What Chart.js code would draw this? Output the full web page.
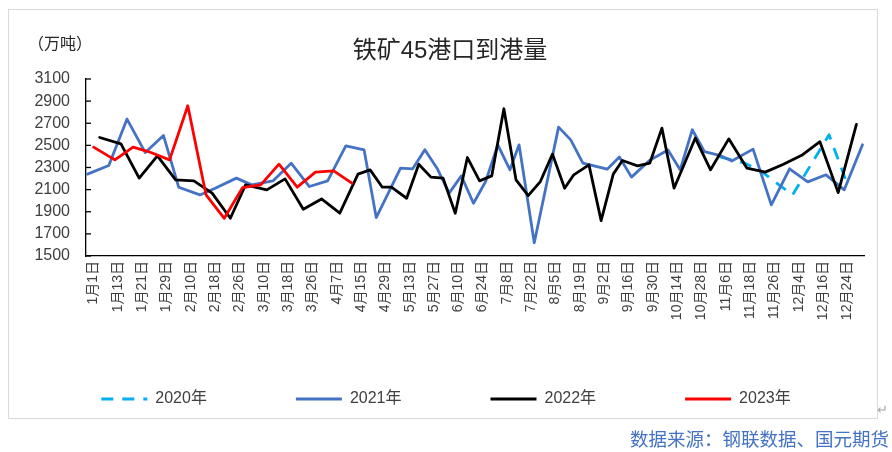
<!DOCTYPE html>
<html>
<head>
<meta charset="utf-8">
<script src="https://cdn.jsdelivr.net/npm/chart.js@4.4.0/dist/chart.umd.min.js"></script>
<style>
  html, body { margin: 0; padding: 0; background: #fff; }
  body { width: 892px; height: 452px; position: relative; overflow: hidden;
         font-family: "Liberation Sans", "Noto Sans CJK SC", sans-serif; }
  #frame { position: absolute; left: 8px; top: 9px; width: 868px; height: 408px; border: 1px solid #d9d9d9; }
  #chart { position: absolute; left: 0; top: 0; }
  .title { position: absolute; left: 450px; top: 30px; transform: translateX(-50%);
           font-size: 24px; color: #262626; white-space: nowrap; }
  .unit { position: absolute; left: 28px; top: 30px; font-size: 16px; color: #262626; }
  .source { position: absolute; left: 630px; top: 425px; font-size: 18.5px; color: #4472c4; white-space: nowrap; }
  .mark { position: absolute; left: 877px; top: 402px; font-size: 13px; color: #a6a6a6; }
</style>
</head>
<body>
<div id="frame"></div>
<canvas id="chart" width="892" height="452"></canvas>
<div class="title">铁矿45港口到港量</div>
<div class="unit">（万吨）</div>
<div class="mark">↵</div>
<div class="source">数据来源：钢联数据、国元期货</div>
<script>
// tick labels along the x axis (one every 8 slots)
const dateLabels = ['1月1日', '1月13日', '1月21日', '1月29日', '2月10日', '2月18日', '2月26日', '3月10日',
  '3月18日', '3月26日', '4月7日', '4月15日', '4月29日', '5月13日', '5月27日', '6月10日',
  '6月24日', '7月8日', '7月22日', '8月5日', '8月19日', '9月2日', '9月16日', '9月30日',
  '10月14日', '10月28日', '11月6日', '11月18日', '11月26日', '12月4日', '12月16日', '12月24日'];
const slotsPerLabel = 8;
const labelOffset = 2;
const slotCount = 256;

// each year: slot on the shared date axis + arrival volume (万吨)
const slots2020 = [208, 216, 221, 232, 244, 250];
const values2020 = [2397, 2342, 2279, 2052, 2596, 2150];

const slots2021 = [0, 7, 13, 19, 25, 30, 37, 42, 49, 54, 61, 67, 73, 79, 85, 91, 95, 103, 107, 111,
  115, 119, 123, 127, 131, 135, 139, 142, 147, 155, 159, 163, 171, 175, 179, 185, 191, 195, 199, 203,
  208, 212, 219, 225, 231, 237, 243, 249, 255];
const values2021 = [2240, 2318, 2738, 2435, 2589, 2122, 2052, 2113, 2204, 2143, 2179, 2339, 2128, 2179, 2496, 2460, 1847, 2294, 2288, 2460,
  2294, 2068, 2224, 1977, 2173, 2505, 2279, 2505, 1620, 2665, 2550, 2339, 2285, 2394, 2213, 2365, 2458, 2279, 2641, 2444,
  2410, 2358, 2466, 1962, 2288, 2170, 2234, 2098, 2505];

const slots2022 = [4, 11, 17, 23, 29, 35, 41, 47, 52, 59, 65, 71, 77, 83, 89, 93, 97, 100, 105, 109,
  113, 117, 121, 125, 129, 133, 137, 141, 145, 149, 153, 157, 160, 165, 169, 173, 176, 181, 185, 189,
  193, 200, 205, 211, 217, 223, 229, 235, 241, 247, 253];
const values2022 = [2571, 2514, 2204, 2405, 2188, 2179, 2068, 1841, 2143, 2098, 2197, 1923, 2016, 1887, 2240, 2279, 2122, 2122, 2022, 2330,
  2213, 2204, 1887, 2390, 2179, 2224, 2831, 2188, 2046, 2173, 2421, 2113, 2234, 2324, 1820, 2240, 2363, 2315, 2339, 2656,
  2113, 2566, 2279, 2559, 2294, 2258, 2330, 2410, 2533, 2073, 2690];

const slots2023 = [2, 9, 15, 20, 27, 33, 39, 45, 51, 57, 63, 69, 75, 81, 87];
const values2023 = [2484, 2369, 2484, 2444, 2369, 2858, 2052, 1841, 2118, 2143, 2330, 2122, 2258, 2270, 2158];

const yMin = 1500;
const yMax = 3100;
const yStep = 200;

const slotLabels = Array.from({ length: slotCount }, (_, i) =>
  (i - labelOffset) % slotsPerLabel === 0 ? dateLabels[(i - labelOffset) / slotsPerLabel] || '' : '');

function toSlots(slots, values) {
  const arr = new Array(slotCount).fill(null);
  slots.forEach((s, i) => { arr[s] = values[i]; });
  return arr;
}

const fontFamily = "'Liberation Sans', 'Noto Sans CJK SC', sans-serif";
const textColor = '#404040';

// small tick marks drawn on the inside of the y axis
const innerTicks = {
  id: 'innerTicks',
  afterDatasetsDraw(chart) {
    const { ctx, chartArea, scales: { y } } = chart;
    ctx.save();
    ctx.strokeStyle = '#000';
    ctx.lineWidth = 1.3;
    y.ticks.forEach(t => {
      const py = y.getPixelForValue(t.value);
      ctx.beginPath();
      ctx.moveTo(chartArea.left, py);
      ctx.lineTo(chartArea.left + 5, py);
      ctx.stroke();
    });
    ctx.restore();
  }
};

// long rotated date labels run into the legend band; don't clip them at the axis box
const longLabels = {
  id: 'longLabels',
  afterLayout(chart) {
    chart.scales.x.bottom = chart.height;
  }
};

function lineSet(label, data, color, order, dash) {
  return {
    label: label,
    data: data,
    borderColor: color,
    backgroundColor: color,
    borderWidth: 2.8,
    borderDash: dash || [],
    borderCapStyle: dash ? 'butt' : 'round',
    borderJoinStyle: 'round',
    pointRadius: 0,
    pointHoverRadius: 0,
    tension: 0,
    spanGaps: true,
    fill: false,
    order: order
  };
}

// legend samples take the line's own dash and width
function legendItems(chart) {
  return Chart.defaults.plugins.legend.labels.generateLabels(chart).map(item => {
    const ds = chart.data.datasets[item.datasetIndex];
    item.lineDash = ds.borderDash;
    item.lineWidth = ds.borderWidth;
    item.strokeStyle = ds.borderColor;
    item.lineCap = 'butt';
    return item;
  });
}

new Chart(document.getElementById('chart'), {
  type: 'line',
  plugins: [innerTicks, longLabels],
  data: {
    labels: slotLabels,
    datasets: [
      lineSet('2020年', toSlots(slots2020, values2020), '#00b0f0', 4, [12, 9]),
      lineSet('2021年', toSlots(slots2021, values2021), '#4472c4', 3),
      lineSet('2022年', toSlots(slots2022, values2022), '#000000', 2),
      lineSet('2023年', toSlots(slots2023, values2023), '#ff0000', 1)
    ]
  },
  options: {
    responsive: false,
    animation: false,
    layout: { padding: { left: 0, right: 0, top: 79, bottom: 35 } },
    plugins: {
      title: { display: false },
      tooltip: { enabled: false },
      legend: {
        position: 'bottom',
        labels: {
          usePointStyle: true,
          pointStyle: 'line',
          pointStyleWidth: 46,
          padding: 89,
          color: textColor,
          font: { size: 16, family: fontFamily },
          generateLabels: legendItems,
          sort: (a, b) => a.datasetIndex - b.datasetIndex
        }
      }
    },
    scales: {
      x: {
        offset: true,
        ticks: {
          autoSkip: true,
          autoSkipPadding: -15,
          minRotation: 90,
          maxRotation: 90,
          padding: 5,
          color: textColor,
          font: { size: 14, family: fontFamily }
        },
        grid: { drawOnChartArea: false, drawTicks: false },
        border: { color: '#000', width: 1.3 },
        afterFit: s => { s.height = 46; }
      },
      y: {
        min: yMin,
        max: yMax,
        ticks: {
          stepSize: yStep,
          autoSkip: false,
          padding: 16,
          color: textColor,
          font: { size: 16, family: fontFamily },
          callback: v => String(v)
        },
        grid: { drawOnChartArea: false, drawTicks: false },
        border: { color: '#000', width: 1.3 },
        afterFit: s => { s.width = 86; }
      },
      // empty right-hand gutter so the plot stops where the picture's does
      gutter: {
        type: 'linear',
        position: 'right',
        ticks: { display: false },
        grid: { display: false },
        border: { display: false },
        afterFit: s => { s.width = 28; }
      }
    }
  }
});
</script>
</body>
</html>
